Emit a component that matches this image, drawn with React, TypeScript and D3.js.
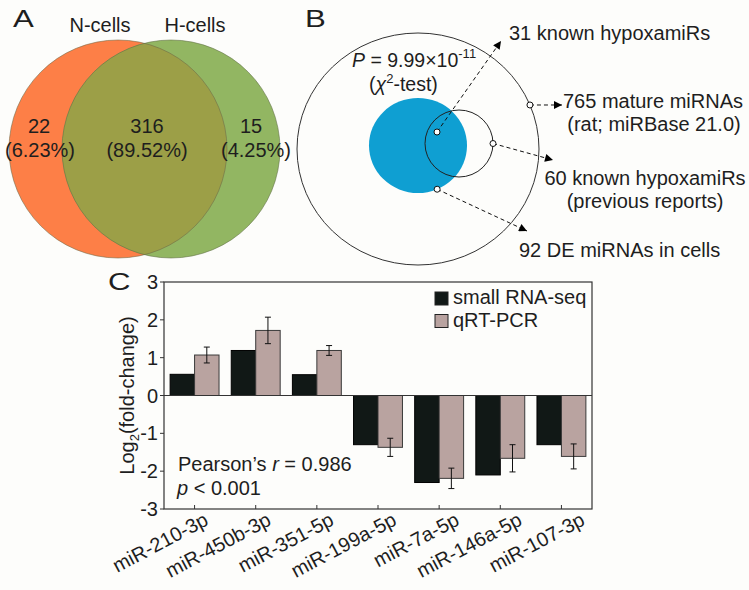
import React from "react";
import * as d3 from "d3";

// ---------- data ----------
const vennSets = ["N-cells", "H-cells"];
const vennCounts = [22, 316, 15];
const vennPercents = ["(6.23%)", "(89.52%)", "(4.25%)"];

const bLabels = [
  ["31 known hypoxamiRs"],
  ["765 mature miRNAs", "(rat; miRBase 21.0)"],
  ["60 known hypoxamiRs", "(previous reports)"],
  ["92 DE miRNAs in cells"],
];

const categories = [
  "miR-210-3p",
  "miR-450b-3p",
  "miR-351-5p",
  "miR-199a-5p",
  "miR-7a-5p",
  "miR-146a-5p",
  "miR-107-3p",
];
const series = ["small RNA-seq", "qRT-PCR"];
const seqValues = [0.56, 1.19, 0.55, -1.3, -2.3, -2.1, -1.3];
const pcrValues = [1.07, 1.72, 1.19, -1.37, -2.19, -1.66, -1.61];
const pcrErrors = [0.21, 0.35, 0.13, 0.24, 0.27, 0.36, 0.33];
const yTicks = [-3, -2, -1, 0, 1, 2, 3];

// ---------- style ----------
const FONT = "'Liberation Sans', Arial, Helvetica, sans-serif";
const TXT = "#1e1e1e";
const ORANGE = "#fd7f47";
const GREEN = "#92b662";
const OLIVE = "#9c9f47";
const BLUE = "#0f9fd2";
const DARK = "#111816";
const PINK = "#b9a3a0";

export default function App() {
  // Panel C scales
  const x0 = d3.scaleBand<string>().domain(categories).range([164, 592]).paddingInner(0).paddingOuter(0);
  const x1 = d3.scaleBand<string>().domain(series).range([0, x0.bandwidth()]).paddingInner(0).paddingOuter(0.25);
  const y = d3.scaleLinear().domain([-3, 3]).range([509, 282]);
  const seriesVals = [seqValues, pcrValues];
  const seriesFill = [DARK, PINK];

  // Panel B geometry
  const big = { cx: 418, cy: 149, rx: 121, ry: 116 };
  const blue = { cx: 418, cy: 145.5, rx: 49, ry: 47.5 };
  const small = { cx: 459, cy: 143.5, rx: 34, ry: 33.5 };
  const onE = (e: any, deg: number) => {
    const a = (deg * Math.PI) / 180;
    return [e.cx + e.rx * Math.cos(a), e.cy + e.ry * Math.sin(a)];
  };
  const dots = [[437, 132], onE(big, -22.3), onE(small, 0), onE(blue, 67)];
  const tips = [[501, 41], [562, 105], [553, 160], [527, 231]];

  const bar = (i: number, s: number) => {
    const v = seriesVals[s][i];
    const xx = (x0(categories[i]) as number) + (x1(series[s]) as number);
    return (
      <rect
        key={`b${s}-${i}`}
        x={xx}
        y={Math.min(y(v), y(0))}
        width={x1.bandwidth()}
        height={Math.abs(y(v) - y(0))}
        fill={seriesFill[s]}
        stroke={s === 0 ? "#000" : "#3a3a3a"}
        strokeWidth={1}
      />
    );
  };

  return (
    <svg
      width={749}
      height={590}
      style={{ position: "absolute", left: 0, top: 0 }}
      fontFamily={FONT}
    >
      <defs>
        <clipPath id="clipO">
          <circle cx={118} cy={149} r={109} />
        </clipPath>
        <marker
          id="arr"
          viewBox="0 0 10 10"
          refX="10"
          refY="5"
          markerWidth="9"
          markerHeight="8"
          orient="auto"
          markerUnits="userSpaceOnUse"
        >
          <path d="M0,0 L10,5 L0,10 z" fill="#000" />
        </marker>
      </defs>
      <rect x={0} y={0} width={749} height={590} fill="#fdfdfb" />

      {/* ---------- Panel A ---------- */}
      <text transform="translate(13,27) scale(1.3,1)" fontSize={24} fill={TXT}>A</text>
      <circle cx={118} cy={149} r={109} fill={ORANGE} />
      <circle cx={171} cy={149} r={109} fill={GREEN} />
      <circle cx={171} cy={149} r={109} fill={OLIVE} clipPath="url(#clipO)" />
      <circle cx={118} cy={149} r={109} fill="none" stroke="#6d6a48" strokeWidth={0.8} strokeOpacity={0.7} />
      <circle cx={171} cy={149} r={109} fill="none" stroke="#5f6e44" strokeWidth={0.8} strokeOpacity={0.7} />
      <text x={100} y={32} fontSize={20} textAnchor="middle" fill={TXT}>{vennSets[0]}</text>
      <text x={195} y={32} fontSize={20} textAnchor="middle" fill={TXT}>{vennSets[1]}</text>
      {[39, 147, 251].map((cx, i) => (
        <text key={`c${i}`} x={cx} y={133} fontSize={20} textAnchor="middle" fill={TXT}>
          {vennCounts[i]}
        </text>
      ))}
      {[40, 147, 256].map((cx, i) => (
        <text key={`p${i}`} x={cx} y={157} fontSize={20} textAnchor="middle" fill={TXT}>
          {vennPercents[i]}
        </text>
      ))}

      {/* ---------- Panel B ---------- */}
      <text transform="translate(305,27) scale(1.3,1)" fontSize={24} fill={TXT}>B</text>
      <ellipse cx={big.cx} cy={big.cy} rx={big.rx} ry={big.ry} fill="#fdfdfb" stroke="#333" strokeWidth={1} />
      <ellipse cx={blue.cx} cy={blue.cy} rx={blue.rx} ry={blue.ry} fill={BLUE} />
      <ellipse cx={small.cx} cy={small.cy} rx={small.rx} ry={small.ry} fill="none" stroke="#222" strokeWidth={1} />
      <text x={352} y={67} fontSize={19.5} fill={TXT}>
        <tspan fontStyle="italic">P</tspan>
        <tspan> = 9.99×10</tspan>
        <tspan dy={-9} fontSize={13}>-11</tspan>
      </text>
      <text x={369} y={91} fontSize={19.5} fill={TXT}>
        <tspan>(</tspan>
        <tspan fontStyle="italic">χ</tspan>
        <tspan dy={-8} fontSize={13}>2</tspan>
        <tspan dy={8}>-test)</tspan>
      </text>
      {dots.map((d, i) => (
        <line
          key={`l${i}`}
          x1={d[0]}
          y1={d[1]}
          x2={tips[i][0]}
          y2={tips[i][1]}
          stroke="#111"
          strokeWidth={1}
          strokeDasharray="4,3"
          markerEnd="url(#arr)"
        />
      ))}
      {dots.map((d, i) => (
        <circle key={`d${i}`} cx={d[0]} cy={d[1]} r={3} fill="#fff" stroke="#111" strokeWidth={1} />
      ))}
      <text x={509} y={40} fontSize={20} fill={TXT}>{bLabels[0][0]}</text>
      <text x={653} y={108} fontSize={20} fill={TXT} textAnchor="middle">{bLabels[1][0]}</text>
      <text x={654} y={131} fontSize={20} fill={TXT} textAnchor="middle">{bLabels[1][1]}</text>
      <text x={645} y={185} fontSize={20} fill={TXT} textAnchor="middle">{bLabels[2][0]}</text>
      <text x={645} y={208} fontSize={20} fill={TXT} textAnchor="middle">{bLabels[2][1]}</text>
      <text x={519} y={257} fontSize={20} fill={TXT}>{bLabels[3][0]}</text>

      {/* ---------- Panel C ---------- */}
      <text transform="translate(108,290) scale(1.3,1)" fontSize={24} fill={TXT}>C</text>
      {categories.map((_, i) => [bar(i, 0), bar(i, 1)])}
      {categories.map((c, i) => {
        const cx = (x0(c) as number) + (x1(series[1]) as number) + x1.bandwidth() / 2;
        const v = pcrValues[i];
        const e = pcrErrors[i];
        return (
          <g key={`e${i}`} stroke="#111" strokeWidth={1}>
            <line x1={cx} x2={cx} y1={y(v + e)} y2={y(v - e)} />
            <line x1={cx - 3} x2={cx + 3} y1={y(v + e)} y2={y(v + e)} />
            <line x1={cx - 3} x2={cx + 3} y1={y(v - e)} y2={y(v - e)} />
          </g>
        );
      })}
      <line x1={164} x2={592} y1={y(0)} y2={y(0)} stroke="#333" strokeWidth={1.2} />
      <rect x={164} y={y(3)} width={428} height={y(-3) - y(3)} fill="none" stroke="#333" strokeWidth={1.2} />
      {yTicks.map((t) => (
        <g key={`yt${t}`}>
          <line x1={160} x2={164} y1={y(t)} y2={y(t)} stroke="#333" strokeWidth={1} />
          <text x={158} y={y(t) + 7} fontSize={20} textAnchor="end" fill={TXT}>{t}</text>
        </g>
      ))}
      {categories.map((c, i) => {
        const cx = (x0(c) as number) + x0.bandwidth() / 2;
        return (
          <g key={`xt${i}`}>
            <line x1={cx} x2={cx} y1={y(-3)} y2={y(-3) - 4} stroke="#333" strokeWidth={1} />
            <text
              transform={`translate(${cx + 15 + i * 1.6},524) rotate(-28)`}
              fontSize={20}
              textAnchor="end"
              fill={TXT}
            >
              {c}
            </text>
          </g>
        );
      })}
      <text transform={`translate(134,${y(0)}) rotate(-90)`} fontSize={20} textAnchor="middle" fill={TXT}>
        <tspan>Log</tspan>
        <tspan dy={5} fontSize={13}>2</tspan>
        <tspan dy={-5}>(fold-change)</tspan>
      </text>
      <text x={178} y={471} fontSize={20} fill={TXT}>
        <tspan>Pearson’s </tspan>
        <tspan fontStyle="italic">r</tspan>
        <tspan> = 0.986</tspan>
      </text>
      <text x={177} y={495} fontSize={20} fill={TXT}>
        <tspan fontStyle="italic">p</tspan>
        <tspan> &lt; 0.001</tspan>
      </text>
      {series.map((s, i) => (
        <g key={`lg${i}`}>
          <rect x={435} y={292 + i * 22.5} width={13} height={13} fill={seriesFill[i]} stroke="#222" strokeWidth={1} />
          <text x={453} y={304 + i * 22.5} fontSize={20} fill={TXT}>{s}</text>
        </g>
      ))}
    </svg>
  );
}
